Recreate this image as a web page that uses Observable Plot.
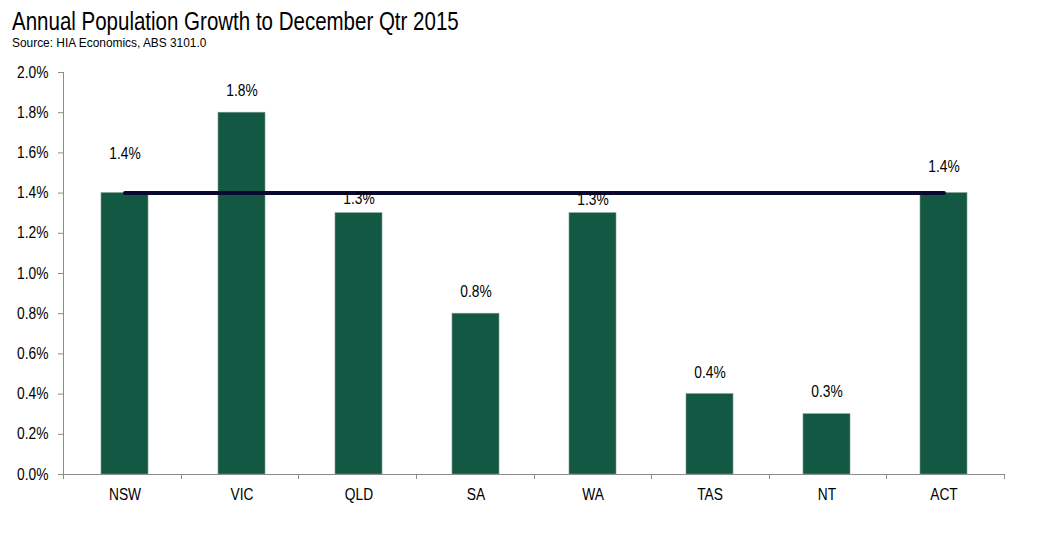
<!DOCTYPE html>
<html>
<head>
<meta charset="utf-8">
<script src="https://cdn.jsdelivr.net/npm/d3@7"></script>
<script src="https://cdn.jsdelivr.net/npm/@observablehq/plot@0.6"></script>
<style>
  html, body { margin: 0; padding: 0; background: #fff; }
  body { width: 1042px; height: 540px; overflow: hidden; font-family: "Liberation Sans", Arial, sans-serif; }
  #title { height: 36px; padding-left: 12px; font-size: 25px; line-height: 42px; color: #000; white-space: nowrap; }
  #title span { display: inline-block; transform: scaleX(0.82); transform-origin: 0 0; }
  #source { height: 18px; padding-left: 12px; font-size: 13px; line-height: 14px; color: #000; white-space: nowrap; }
  #source span { display: inline-block; transform: scaleX(0.915); transform-origin: 0 0; }
  svg { display: block; }
</style>
</head>
<body>
<div id="title"><span>Annual Population Growth to December Qtr 2015</span></div>
<div id="source"><span>Source: HIA Economics, ABS 3101.0</span></div>
<div id="chart"></div>
<script>
const states = ["NSW", "VIC", "QLD", "SA", "WA", "TAS", "NT", "ACT"];
const growth = [1.4, 1.8, 1.3, 0.8, 1.3, 0.4, 0.3, 1.4];
const national = [1.4, 1.4, 1.4, 1.4, 1.4, 1.4, 1.4, 1.4];
const yTicks = [0, 0.2, 0.4, 0.6, 0.8, 1.0, 1.2, 1.4, 1.6, 1.8, 2.0];

const bars = states.map((s, i) => ({state: s, value: growth[i]}));
const avg = states.map((s, i) => ({state: s, value: national[i]}));

const fmt = v => v.toFixed(1) + "%";
const font = '"Liberation Sans", Arial, sans-serif';

// label lifts (pixels) per state, for legibility around the average line
const lift = {NSW: -34, VIC: -17, QLD: -9, SA: -17, WA: -8, TAS: -16, NT: -17, ACT: -21};
const groups = d3.groups(bars, d => lift[d.state]);

const boundaryTicks = (index, scales, values, dims) => {
  const g = d3.create("svg:g").attr("stroke", "#8c8c8c").attr("stroke-width", 1);
  const w = dims.width - dims.marginLeft - dims.marginRight;
  const y0 = dims.height - dims.marginBottom;
  for (let i = 0; i <= states.length; i++) {
    const x = Math.round(dims.marginLeft + i * w / states.length) + 0.5;
    g.append("line").attr("x1", x).attr("x2", x).attr("y1", y0).attr("y2", y0 + 5);
  }
  g.append("line").attr("x1", dims.marginLeft + 0.5).attr("x2", dims.marginLeft + 0.5)
    .attr("y1", dims.marginTop).attr("y2", y0);
  return g.node();
};

const chart = Plot.plot({
  width: 1042,
  height: 486,
  marginLeft: 63,
  marginRight: 38,
  marginTop: 18,
  marginBottom: 66,
  style: {fontFamily: font, fontSize: "16px", color: "#000", background: "#fff", overflow: "visible"},
  x: {domain: states, paddingInner: 0.6, paddingOuter: 0.3, label: null},
  y: {domain: [0, 2.0], label: null},
  marks: [
    Plot.barY(bars, {x: "state", y: "value", fill: "#135842", stroke: "#7d9a8f", strokeWidth: 0.6}),
    Plot.lineY(avg, {x: "state", y: "value", stroke: "#0a0a30", strokeWidth: 4, strokeLinecap: "round"}),
    ...groups.map(([dy, rows]) => Plot.text(rows, {
      x: "state", y: "value", text: d => fmt(d.value), dy, lineAnchor: "bottom",
      fontSize: 16, fill: "#000"
    })),
    Plot.ruleY([0], {stroke: "#8c8c8c", strokeWidth: 1}),
    Plot.axisY({ticks: yTicks, tickFormat: fmt, tickSize: 5, tickPadding: 10, stroke: "#8c8c8c", fontSize: 16, label: null}),
    Plot.axisX({tickSize: 0, tickPadding: 14, fontSize: 16, label: null}),
    boundaryTicks
  ]
});

document.getElementById("chart").appendChild(chart);

// condense SVG texts to mimic a narrow face
chart.querySelectorAll("text").forEach(t => {
  const len = t.getComputedTextLength();
  if (len > 0) {
    t.setAttribute("textLength", (len * 0.86).toFixed(1));
    t.setAttribute("lengthAdjust", "spacingAndGlyphs");
  }
});
</script>
</body>
</html>
